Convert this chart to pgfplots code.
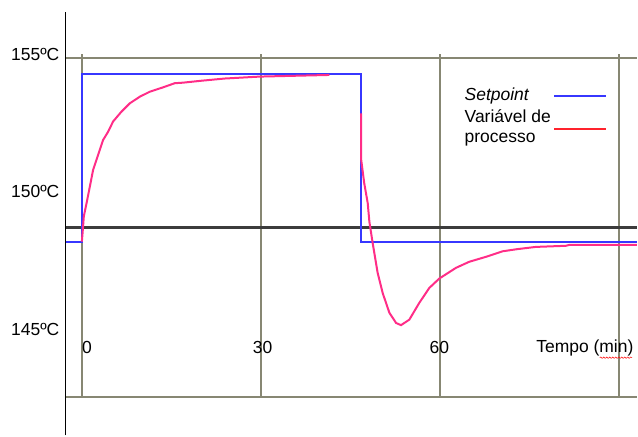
\documentclass[border=0pt]{standalone}
\usepackage{pgfplots}
\pgfplotsset{compat=1.18}
\usepackage{fontspec}
\setmainfont{Liberation Sans}
\usetikzlibrary{decorations.pathmorphing}
\definecolor{gridc}{RGB}{135,135,115}
\definecolor{spblue}{RGB}{55,55,255}
\definecolor{pvpink}{RGB}{255,45,135}
\definecolor{legred}{RGB}{255,35,45}
\definecolor{darkline}{RGB}{60,60,60}
\begin{document}
\begin{tikzpicture}[font=\fontsize{17.5}{21}\selectfont]
\begin{axis}[
  scale only axis,
  width=572.2pt, height=343.1pt,
  xmin=-2.68, xmax=93.0, ymin=142.57, ymax=155.0,
  clip=false,
  axis line style={draw=none},
  xtick={0,30,60,90}, xticklabels={},
  xmajorgrids,
  grid style={gridc, line width=2.0pt},
  major tick length=0pt,
  ytick={145,150,155},
  yticklabels={145ºC,150ºC,155ºC},
  yticklabel style={font=\fontsize{17.5}{21}\selectfont, inner sep=0pt, xshift=-6pt},
  extra y ticks={142.57,154.87},
  extra y tick labels={},
  extra y tick style={ymajorgrids=true, major tick length=0pt},
]
% left axis line
\draw[black, line width=1.6pt] (axis cs:-2.68,141.16) -- (axis cs:-2.68,156.52);
% dark horizontal reference line
\addplot[darkline, line width=2.4pt] coordinates {(-2.68,148.70) (93.0,148.70)};
% setpoint
\addplot[spblue, line width=2.0pt] coordinates {
 (-2.68,148.17) (0,148.17) (0,154.28) (46.82,154.28) (46.82,148.17) (93.0,148.17)};
% process variable, part 1
\addplot[pvpink, line width=2.0pt] coordinates {
 (0.05,148.19) (0.17,148.50) (0.38,149.11) (0.84,149.59) (1.39,150.19)
 (1.94,150.80) (2.78,151.34) (3.61,151.88) (4.45,152.18) (5.28,152.55)
 (6.69,152.91) (8.08,153.21) (9.75,153.45) (11.42,153.63) (13.65,153.79)
 (15.60,153.94) (16.99,153.96) (20.07,154.03) (23.96,154.11) (29.82,154.18)
 (41.52,154.24)};
% process variable, part 2
\addplot[pvpink, line width=2.0pt] coordinates {
 (46.84,152.85) (46.84,151.16) (47.34,150.32) (47.93,149.59) (48.21,148.91)
 (48.76,148.14) (49.60,147.05) (50.43,146.33) (51.56,145.61) (52.68,145.24)
 (53.51,145.16) (54.90,145.36) (56.57,145.97) (58.24,146.51) (59.91,146.85)
 (62.71,147.24) (64.93,147.46) (67.73,147.64) (70.50,147.84) (73.01,147.92)
 (76.09,148.00) (81.10,148.04) (81.66,148.07) (93.0,148.07)};
% x labels inside plot
\node[anchor=west, inner sep=0pt] at (axis cs:0.05,144.35) {0};
\node[inner sep=0pt] at (axis cs:30.32,144.35) {30};
\node[inner sep=0pt] at (axis cs:59.92,144.35) {60};
\node[inner sep=0pt] at (axis cs:84.3,144.35) {Tempo (min)};
\draw[red, line width=0.5pt, decorate, decoration={snake, amplitude=0.7pt, segment length=3pt}]
  (axis cs:86.8,143.98) -- (axis cs:92.2,143.98);
% legend
\node[anchor=west, inner sep=0pt] at (axis cs:64.13,153.48) {\itshape Setpoint};
\draw[spblue, line width=2.0pt] (axis cs:79.14,153.48) -- (axis cs:87.84,153.48);
\node[anchor=west, inner sep=0pt, align=left, font=\fontsize{17.5}{20}\selectfont] at (axis cs:64.13,152.33) {Variável de\\processo};
\draw[legred, line width=2.0pt] (axis cs:79.14,152.27) -- (axis cs:87.84,152.27);
% bounding box
\path (axis cs:-13.66,141.16) rectangle (axis cs:93.0,156.96);
\end{axis}
\end{tikzpicture}
\end{document}
